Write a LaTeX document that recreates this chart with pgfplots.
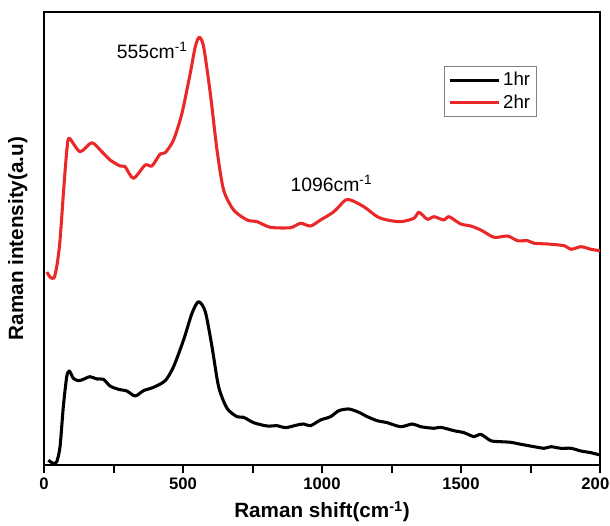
\documentclass[border=0pt]{standalone}
\usepackage{fontspec}
\setmainfont{Liberation Sans}
\usepackage{pgfplots}
\pgfplotsset{compat=1.18}
\definecolor{redline}{RGB}{235,40,40}

\begin{document}
\begin{tikzpicture}
\begin{axis}[
  scale only axis, width=417pt, height=339.75pt,
  xmin=0, xmax=2000, ymin=0, ymax=453,
  xtick={0,500,1000,1500,2000}, minor x tick num=1,
  ytick=\empty, xtick pos=bottom, tick align=outside,
  major tick length=6pt, minor tick length=6pt,
  every tick/.style={black, line width=1.5pt},
  axis line style={line width=1.8pt},
  /pgf/number format/assume math mode=true,
  /pgf/number format/1000 sep={},
  xticklabel style={font=\bfseries\fontsize{12.5}{14}\selectfont},
  xlabel={Raman shift(cm\textsuperscript{-1})},
  ylabel={Raman intensity(a.u)},
  xlabel style={font=\bfseries\fontsize{15.5}{18}\selectfont, at={(axis description cs:0.5,-0.103)}, anchor=center},
  ylabel style={font=\bfseries\fontsize{15.5}{18}\selectfont, at={(axis description cs:-0.047,0.5)}, anchor=center},
  legend style={at={(axis description cs:0.887,0.881)}, anchor=north east,
    draw=gray, line width=0.6pt, font=\fontsize{14}{16}\selectfont,
    row sep=1.5pt, inner xsep=3pt, inner ysep=2.5pt},
  legend cell align=left,
  legend image code/.code={\draw[#1, line width=2.2pt] (0pt,0pt) -- (37pt,0pt);},
]
\addplot[black, line width=2.3pt, line join=round, smooth, tension=0.45] coordinates {
(15.5,4.7) (33.5,1.7) (45.8,3.3) (57.7,18.3) (69.5,58.3) (81.8,88.3) (91.2,94)
(105.6,86.7) (123.6,84.3) (141.6,85.7) (165.8,88.3) (189.9,86) (213.7,85.7)
(237.8,79) (267.7,75.7) (298,74) (327.9,69) (357.8,74.3) (393.9,77.7) (436,84.3)
(466,98.3) (502,125) (532.3,151.7) (556,163.3) (580.2,153.3) (604.3,118.3)
(628.1,78.3) (658.4,56.7) (694.4,48.3) (718.2,47.7) (754.2,42.3) (802.5,39)
(838.6,39.3) (868.5,37.3) (910.6,40) (934.4,41) (958.6,39.3) (994.6,45)
(1030.6,48.3) (1060.5,54.3) (1096.6,56) (1132.6,52.7) (1162.9,48.3) (1198.9,44.3)
(1234.9,42.3) (1282.9,38.3) (1325,41) (1354.9,38.3) (1402.9,36.7) (1427,37.7)
(1474.9,34.3) (1511,32.3) (1547,28.3) (1571.2,30.7) (1607.2,24.3) (1643.2,23.3)
(1679.3,22.7) (1715.3,20.7) (1763.3,18.3) (1799.3,16.7) (1823.4,18.3)
(1859.5,16.7) (1895.5,16.7) (1931.5,14) (1967.6,12.3) (2000,10)
};
\addlegendentry{1hr}
\addplot[redline, line width=2.3pt, line join=round, smooth, tension=0.45] coordinates {
(10.8,193) (21.6,188) (36,187) (46.8,200) (57.7,225) (72,280) (82.9,317)
(91.2,326.7) (129.7,313.3) (171.9,322.3) (207.9,313.3) (237.8,305) (273.9,299)
(291.9,298.3) (321.8,286.7) (364,300) (388.1,299) (418,311) (436,312.3)
(466,325) (496.2,351.7) (526.1,391.7) (544.1,418.3) (558.6,427.7) (574.1,418.3)
(598.2,371.7) (622.3,315) (646.1,275) (682.2,255) (730.5,245) (766.5,243.3)
(814.4,237.7) (886.5,237.3) (922.5,241.7) (958.6,239) (994.6,245) (1042.5,253.3)
(1084.7,265) (1108.8,264.3) (1150.6,258.3) (1198.9,248.3) (1234.9,245)
(1282.9,243.3) (1330.8,246.7) (1348.8,252.7) (1379.1,245.7) (1402.9,248.3)
(1438.9,245) (1456.9,248.3) (1499.1,241) (1535.1,239) (1571.2,235) (1619.1,227.7)
(1667.4,229) (1703.4,224.3) (1739.5,224.3) (1763.2,221.7) (1811.5,221)
(1871.3,219.3) (1895.5,215.7) (1931.5,218.3) (1967.6,215.7) (2000,214.3)
};
\addlegendentry{2hr}
\node[font=\fontsize{14.5}{16}\selectfont] at (axis cs:389,415) {555cm\textsuperscript{-1}};
\node[font=\fontsize{14.5}{16}\selectfont] at (axis cs:1034,282) {1096cm\textsuperscript{-1}};
\coordinate (bl) at (rel axis cs:0,0);
\coordinate (tr) at (rel axis cs:1,1);
\end{axis}
\pgfresetboundingbox
\path[use as bounding box] ([xshift=-33pt,yshift=-45pt]bl) rectangle ([xshift=7.5pt,yshift=9pt]tr);
\end{tikzpicture}
\end{document}
